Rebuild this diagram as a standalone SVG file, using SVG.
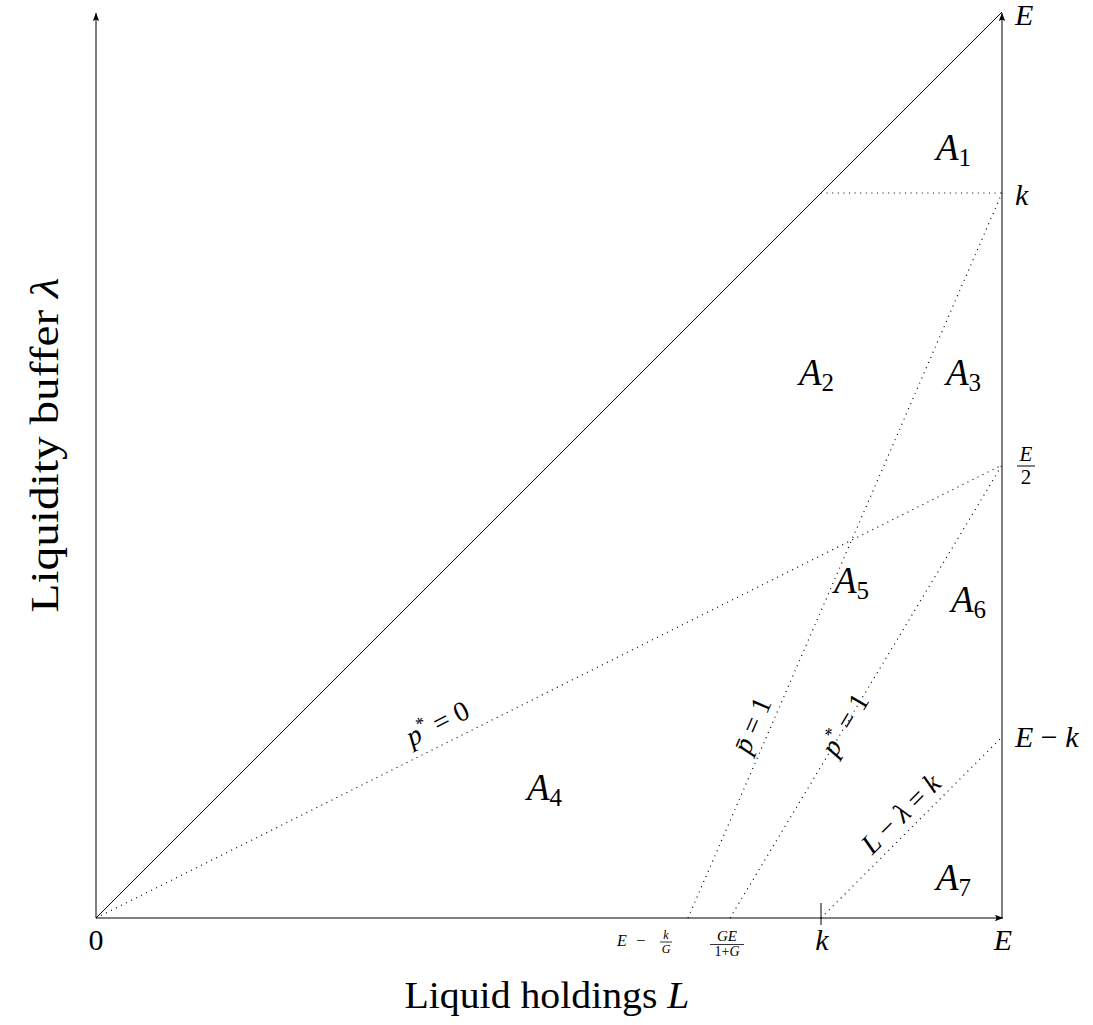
<svg xmlns="http://www.w3.org/2000/svg" width="1093" height="1025" viewBox="0 0 1093 1025" font-family="'Liberation Serif', 'DejaVu Serif', serif">
<style>
text{font-family:'Liberation Serif','DejaVu Serif',serif;fill:#000}
.m{font-style:italic}
.n{font-style:normal}
.ax{stroke:#000;stroke-width:1;fill:none}
.dot{stroke:#000;stroke-width:1.2;stroke-dasharray:1 4.6;fill:none}
.A{font-size:37px;font-style:italic}
.sub{font-size:25px;font-style:normal}
.tk{font-size:30px}
.rl{font-size:28px}
</style>
<defs>
<marker id="arr" markerUnits="userSpaceOnUse" markerWidth="10" markerHeight="10" refX="8" refY="4" orient="auto"><path d="M0,0.8 L8,4 L0,7.2 L1.6,4 Z" fill="#000"/></marker>
</defs>
<rect width="1093" height="1025" fill="#fff"/>
<g id="connectors">
<line class="ax" x1="96" y1="918" x2="96" y2="13" marker-end="url(#arr)"/>
<line class="ax" x1="96" y1="918" x2="1003" y2="918" marker-end="url(#arr)"/>
<line class="ax" x1="1002" y1="918" x2="1002" y2="13" marker-end="url(#arr)"/>
<line class="ax" x1="96" y1="918" x2="1002" y2="12"/>
<line class="ax" x1="821" y1="903" x2="821" y2="925"/>
<line class="dot" x1="821" y1="193" x2="1002" y2="193"/>
<line class="dot" x1="96" y1="918" x2="1002" y2="465"/>
<line class="dot" x1="688" y1="918" x2="1002" y2="193"/>
<line class="dot" x1="730" y1="918" x2="1002" y2="465"/>
<line class="dot" x1="821" y1="918" x2="1002" y2="737"/>
</g>
<g id="axis-labels">
<text x="547" y="1008" text-anchor="middle" font-size="38" textLength="285" lengthAdjust="spacingAndGlyphs">Liquid holdings <tspan class="m">L</tspan></text>
<text transform="translate(58,445) rotate(-90)" text-anchor="middle" font-size="41" textLength="335" lengthAdjust="spacingAndGlyphs">Liquidity buffer <tspan class="m">λ</tspan></text>
</g>
<g id="ticks">
<text class="tk n" x="96" y="950" text-anchor="middle">0</text>
<text class="tk m" x="1003" y="950" text-anchor="middle">E</text>
<text class="tk m" x="822" y="950" text-anchor="middle">k</text>
<text class="tk m" x="1015" y="25">E</text>
<text class="tk m" x="1015" y="205">k</text>
<text class="tk m" x="1015" y="747">E <tspan class="n">−</tspan> k</text>
<g id="tick-E2">
<text class="m" x="1026" y="461" text-anchor="middle" font-size="21">E</text>
<line x1="1017" y1="466" x2="1035" y2="466" stroke="#000" stroke-width="1"/>
<text class="n" x="1026" y="484" text-anchor="middle" font-size="21">2</text>
</g>
<g id="tick-EkG">
<text class="m" x="617" y="946" font-size="16">E</text>
<text class="n" x="636" y="946" font-size="17">−</text>
<text class="m" x="666" y="939" text-anchor="middle" font-size="12">k</text>
<line x1="660" y1="942" x2="672" y2="942" stroke="#000" stroke-width="0.8"/>
<text class="m" x="666" y="953" text-anchor="middle" font-size="12">G</text>
</g>
<g id="tick-GE">
<text class="m" x="727" y="941" text-anchor="middle" font-size="15">GE</text>
<line x1="710" y1="944.5" x2="744" y2="944.5" stroke="#000" stroke-width="0.8"/>
<text class="n" x="727" y="956" text-anchor="middle" font-size="14">1+<tspan class="m">G</tspan></text>
</g>
</g>
<g id="A1"><text class="A" x="936" y="160">A<tspan class="sub" dy="6">1</tspan></text></g>
<g id="A2"><text class="A" x="799" y="385">A<tspan class="sub" dy="6">2</tspan></text></g>
<g id="A3"><text class="A" x="946" y="385">A<tspan class="sub" dy="6">3</tspan></text></g>
<g id="A4"><text class="A" x="527" y="800">A<tspan class="sub" dy="6">4</tspan></text></g>
<g id="A5"><text class="A" x="834" y="593">A<tspan class="sub" dy="6">5</tspan></text></g>
<g id="A6"><text class="A" x="951" y="612">A<tspan class="sub" dy="6">6</tspan></text></g>
<g id="A7"><text class="A" x="936" y="890">A<tspan class="sub" dy="6">7</tspan></text></g>
<g id="line-labels">
<text class="rl m" transform="translate(447,742.5) rotate(-26.57)" x="0" y="-12" text-anchor="middle">p<tspan class="n" font-size="18" dy="-11">*</tspan><tspan class="n" dy="11"> = 0</tspan></text>
<text class="rl m" transform="translate(768,732) rotate(-66.6)" x="0" y="-8" text-anchor="middle">p̄<tspan class="n"> = 1</tspan></text>
<text class="rl m" transform="translate(846,725) rotate(-59)" x="0" y="8" text-anchor="middle">p<tspan class="n" font-size="18" dy="-11">*</tspan><tspan class="n" dy="11"> = 1</tspan></text>
<text class="rl m" transform="translate(913,826) rotate(-45)" x="0" y="-8" text-anchor="middle">L <tspan class="n">−</tspan> λ <tspan class="n">=</tspan> k</text>
</g>
</svg>
